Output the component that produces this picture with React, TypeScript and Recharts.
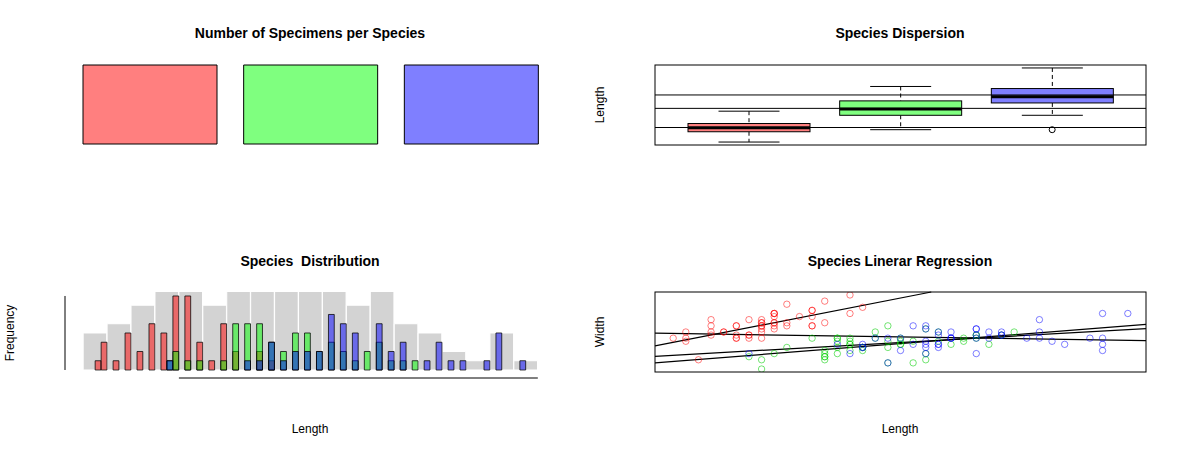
import React from "react";
import {
  BarChart, Bar, Cell, XAxis, YAxis, ComposedChart, Scatter, ScatterChart, ReferenceLine,
} from "recharts";

const FONT = "'Liberation Sans', Arial, Helvetica, sans-serif";
const W = 1180;
const H = 454;

// ---- data ----
const species = ["setosa", "versicolor", "virginica"];
const speciesCounts = [50, 50, 50];
const barFills = ["#FF7F7F", "#7FFF7F", "#7F7FFF"];

// boxplot stats of Sepal.Length
const boxMin = [4.3, 4.9, 5.6];
const boxQ1 = [4.8, 5.6, 6.2];
const boxMed = [5.0, 5.9, 6.5];
const boxQ3 = [5.2, 6.3, 6.9];
const boxMax = [5.8, 7.0, 7.9];
const boxOutlier = [null, null, 4.9];
const speciesMeans = [5.006, 5.936, 6.588];

// histograms
const grayCenters = [4.3, 4.5, 4.7, 4.9, 5.1, 5.3, 5.5, 5.7, 5.9, 6.1, 6.3, 6.5, 6.7, 6.9, 7.1, 7.3, 7.5, 7.7, 7.9];
const grayCounts = [4, 5, 7, 16, 13, 7, 13, 15, 9, 10, 16, 7, 11, 5, 4, 2, 1, 4, 1];
const setosaHistVals = [4.3, 4.4, 4.5, 4.6, 4.7, 4.8, 4.9, 5.0, 5.1, 5.2, 5.3, 5.4, 5.5, 5.7, 5.8];
const setosaHistCounts = [1, 3, 1, 4, 2, 5, 4, 8, 8, 3, 1, 5, 2, 2, 1];
const versHistVals = [4.9, 5.0, 5.1, 5.2, 5.4, 5.5, 5.6, 5.7, 5.8, 5.9, 6.0, 6.1, 6.2, 6.3, 6.4, 6.5, 6.6, 6.7, 6.8, 6.9, 7.0];
const versHistCounts = [1, 2, 1, 1, 1, 5, 5, 5, 3, 2, 4, 4, 2, 3, 2, 1, 2, 3, 1, 1, 1];
const virgHistVals = [4.9, 5.6, 5.7, 5.8, 5.9, 6.0, 6.1, 6.2, 6.3, 6.4, 6.5, 6.7, 6.8, 6.9, 7.1, 7.2, 7.3, 7.4, 7.6, 7.7, 7.9];
const virgHistCounts = [1, 1, 1, 3, 1, 2, 2, 2, 6, 5, 4, 5, 2, 3, 1, 3, 1, 1, 1, 4, 1];

// scatter
const setosaLen = [5.1,4.9,4.7,4.6,5.0,5.4,4.6,5.0,4.4,4.9,5.4,4.8,4.8,4.3,5.8,5.7,5.4,5.1,5.7,5.1,5.4,5.1,4.6,5.1,4.8,5.0,5.0,5.2,5.2,4.7,4.8,5.4,5.2,5.5,4.9,5.0,5.5,4.9,4.4,5.1,5.0,4.5,4.4,5.0,5.1,4.8,5.1,4.6,5.3,5.0];
const setosaWid = [3.5,3.0,3.2,3.1,3.6,3.9,3.4,3.4,2.9,3.1,3.7,3.4,3.0,3.0,4.0,4.4,3.9,3.5,3.8,3.8,3.4,3.7,3.6,3.3,3.4,3.0,3.4,3.5,3.4,3.2,3.1,3.4,4.1,4.2,3.1,3.2,3.5,3.6,3.0,3.4,3.5,2.3,3.2,3.5,3.8,3.0,3.8,3.2,3.7,3.3];
const versLen = [7.0,6.4,6.9,5.5,6.5,5.7,6.3,4.9,6.6,5.2,5.0,5.9,6.0,6.1,5.6,6.7,5.6,5.8,6.2,5.6,5.9,6.1,6.3,6.1,6.4,6.6,6.8,6.7,6.0,5.7,5.5,5.5,5.8,6.0,5.4,6.0,6.7,6.3,5.6,5.5,5.5,6.1,5.8,5.0,5.6,5.7,5.7,6.2,5.1,5.7];
const versWid = [3.2,3.2,3.1,2.3,2.8,2.8,3.3,2.4,2.9,2.7,2.0,3.0,2.2,2.9,2.9,3.1,3.0,2.7,2.2,2.5,3.2,2.8,2.5,2.8,2.9,3.0,2.8,3.0,2.9,2.6,2.4,2.4,2.7,2.7,3.0,3.4,3.1,2.3,3.0,2.5,2.6,3.0,2.6,2.3,2.7,3.0,2.9,2.9,2.5,2.8];
const virgLen = [6.3,5.8,7.1,6.3,6.5,7.6,4.9,7.3,6.7,7.2,6.5,6.4,6.8,5.7,5.8,6.4,6.5,7.7,7.7,6.0,6.9,5.6,7.7,6.3,6.7,7.2,6.2,6.1,6.4,7.2,7.4,7.9,6.4,6.3,6.1,7.7,6.3,6.4,6.0,6.9,6.7,6.9,5.8,6.8,6.7,6.7,6.3,6.5,6.2,5.9];
const virgWid = [3.3,2.7,3.0,2.9,3.0,3.0,2.5,2.9,2.5,3.6,3.2,2.7,3.0,2.5,2.8,3.2,3.0,3.8,2.6,2.2,3.2,2.8,2.8,2.7,3.3,3.2,2.8,3.0,2.8,3.0,2.8,3.8,2.8,2.8,2.6,3.0,3.4,3.1,3.0,3.1,3.1,3.1,2.7,3.2,3.3,3.0,2.5,3.0,3.4,3.0];
// regression coefficients: overall, setosa, versicolor, virginica
const regIntercepts = [3.4189, -0.5694, 0.8724, 1.4463];
const regSlopes = [-0.0619, 0.7985, 0.3197, 0.2319];

// ---- derived tables ----
const tlData = species.map((s, i) => ({ name: s, count: speciesCounts[i] }));
const boxData = species.map((s, i) => ({
  name: s, range: [boxQ1[i], boxQ3[i]], min: boxMin[i], q1: boxQ1[i], med: boxMed[i],
  q3: boxQ3[i], max: boxMax[i], out: boxOutlier[i], fill: barFills[i],
}));
const grayData = grayCenters.map((x, i) => ({ x, c: grayCounts[i] }));
const histBins = (vals: number[], counts: number[]) =>
  vals.map((v, i) => ({ x: i === 0 ? v + 0.025 : v - 0.025, c: counts[i] }));
const histSeries = [
  { data: histBins(setosaHistVals, setosaHistCounts), fill: "rgba(255,0,0,0.5)" },
  { data: histBins(versHistVals, versHistCounts), fill: "rgba(0,255,0,0.5)" },
  { data: histBins(virgHistVals, virgHistCounts), fill: "rgba(0,0,255,0.5)" },
];
const pts = (a: number[], b: number[]) => a.map((x, i) => ({ x, y: b[i] }));
const scatterSeries = [
  { data: pts(setosaLen, setosaWid), stroke: "rgba(255,0,0,0.5)" },
  { data: pts(versLen, versWid), stroke: "rgba(0,205,0,0.55)" },
  { data: pts(virgLen, virgWid), stroke: "rgba(0,0,255,0.5)" },
];
const SX: [number, number] = [4.156, 8.044];
const SY: [number, number] = [1.904, 4.496];
const regSegments = regIntercepts.map((a, i) => {
  const b = regSlopes[i];
  const clipX = (x: number) => {
    let y = a + b * x;
    if (y > SY[1]) { x = (SY[1] - a) / b; y = SY[1]; }
    if (y < SY[0]) { x = (SY[0] - a) / b; y = SY[0]; }
    return { x, y };
  };
  return [clipX(SX[0]), clipX(SX[1])];
});

// ---- ticks ----
const xTick = (k: number, fmt: (v: any) => string) => (p: any) => (
  <text x={p.x} y={p.y + k} textAnchor="middle" dominantBaseline="central" fontSize={12} fontFamily={FONT} fill="#000">
    {fmt(p.payload.value)}
  </text>
);
const yTick = (show: (v: number) => boolean, fmt: (v: number) => string) => (p: any) =>
  show(p.payload.value) ? (
    <text transform={`translate(${p.x - 15},${p.y}) rotate(-90)`} textAnchor="middle" dominantBaseline="central" fontSize={12} fontFamily={FONT} fill="#000">
      {fmt(p.payload.value)}
    </text>
  ) : <g />;

const abs: React.CSSProperties = { position: "absolute", left: 0, top: 0 };
const m = (l: number, t: number, r: number, b: number) => ({ left: l, top: t, right: W - r, bottom: H - b });

const BoxShape = (p: any) => {
  const { x, y, width, height, payload } = p;
  const top = Math.min(y, y + height);
  const h = Math.abs(height);
  const ppu = h / (payload.q3 - payload.q1);
  const cx = x + width / 2;
  const yOf = (v: number) => top + (payload.q3 - v) * ppu;
  const cap = width / 4;
  return (
    <g>
      <line x1={cx} x2={cx} y1={yOf(payload.max)} y2={top} stroke="#000" strokeDasharray="4 3" />
      <line x1={cx} x2={cx} y1={top + h} y2={yOf(payload.min)} stroke="#000" strokeDasharray="4 3" />
      <line x1={cx - cap} x2={cx + cap} y1={yOf(payload.max)} y2={yOf(payload.max)} stroke="#000" />
      <line x1={cx - cap} x2={cx + cap} y1={yOf(payload.min)} y2={yOf(payload.min)} stroke="#000" />
      <rect x={x} y={top} width={width} height={h} fill={payload.fill} stroke="#000" />
      <line x1={x} x2={x + width} y1={yOf(payload.med)} y2={yOf(payload.med)} stroke="#000" strokeWidth={3} />
    </g>
  );
};

export default function App() {
  return (
    <div style={{ position: "absolute", left: 0, top: 0, width: W, height: H, background: "#fff", fontFamily: FONT }}>
      {/* Top-left: counts */}
      <div style={abs}>
        <BarChart width={W} height={H} data={tlData} margin={m(65, 65, 556, 144)}>
          <XAxis dataKey="name" type="category" padding={{ left: 5, right: 4 }} height={0} axisLine={false} tickLine={false} tickSize={0} tick={xTick(23, (v) => v)} interval={0} />
          <YAxis type="number" domain={[0, 50]} ticks={[0, 10, 20, 30, 40, 50]} width={0} tickSize={7} stroke="#000" tick={yTick((v) => v % 20 === 0, (v) => String(v))} />
          <Bar dataKey="count" barSize={134} stroke="#000" isAnimationActive={false}>
            {tlData.map((d, i) => <Cell key={d.name} fill={barFills[i]} />)}
          </Bar>
        </BarChart>
      </div>

      {/* Top-right: boxplot */}
      <div style={abs}>
        <ComposedChart width={W} height={H} data={boxData} margin={m(655, 65, 1146, 145)}>
          <XAxis dataKey="name" type="category" padding={{ left: 18, right: 18 }} height={0} axisLine={false} tickSize={7} stroke="#000" tick={xTick(16, (v) => v)} interval={0} />
          <YAxis type="number" domain={[4.156, 8.044]} ticks={[4.5, 5, 5.5, 6, 6.5, 7, 7.5]} width={0} axisLine={false} tickSize={7} stroke="#000" tick={yTick((v) => [4.5, 6, 7.5].includes(v), (v) => v.toFixed(1))} allowDataOverflow />
          <Bar dataKey="range" barSize={122} shape={<BoxShape />} isAnimationActive={false} />
          <Scatter dataKey="out" isAnimationActive={false} shape={(p: any) => (p.cx != null && p.payload.out != null ? <circle cx={p.cx} cy={p.cy} r={3} fill="none" stroke="#000" /> : <g />)} />
          {speciesMeans.map((v, i) => <ReferenceLine key={i} y={v} stroke="#000" strokeWidth={1} />)}
        </ComposedChart>
      </div>

      {/* Bottom-left: histograms */}
      <div style={abs}>
        <ComposedChart width={W} height={H} data={grayData} margin={m(65, 292, 556, 378)}>
          <XAxis dataKey="x" type="number" domain={[4.048, 8.152]} ticks={[5, 6, 7, 8]} height={0} axisLine={false} tickSize={7} stroke="#000" tick={xTick(9, (v) => String(v))} allowDataOverflow />
          <YAxis type="number" domain={[-0.865, 8.43]} ticks={[0, 2, 4, 6, 8]} width={0} axisLine={false} tickSize={7} stroke="#000" tick={yTick(() => true, (v) => String(v))} allowDataOverflow />
          <Bar dataKey="c" barSize={23.6} fill="#D3D3D3" stroke="#fff" strokeWidth={1} isAnimationActive={false} />
          <ReferenceLine segment={[{ x: 5, y: -0.865 }, { x: 8, y: -0.865 }]} stroke="#000" ifOverflow="visible" />
          <ReferenceLine segment={[{ x: 4.048, y: 0 }, { x: 4.048, y: 8 }]} stroke="#000" ifOverflow="visible" />
        </ComposedChart>
      </div>
      {histSeries.map((s, i) => (
        <div style={abs} key={i}>
          <ComposedChart width={W} height={H} data={s.data} margin={m(65, 292, 556, 378)}>
            <XAxis dataKey="x" type="number" domain={[4.048, 8.152]} hide allowDataOverflow />
            <YAxis type="number" domain={[-0.865, 8.43]} hide allowDataOverflow />
            <Bar dataKey="c" barSize={5.8} fill={s.fill} stroke="rgba(0,0,0,0.75)" strokeWidth={1} isAnimationActive={false} />
          </ComposedChart>
        </div>
      ))}

      {/* Bottom-right: scatter */}
      <div style={abs}>
        <ScatterChart width={W} height={H} margin={m(655, 292, 1146, 372)}>
          <XAxis dataKey="x" type="number" domain={SX} ticks={[4.5, 5, 5.5, 6, 6.5, 7, 7.5, 8]} height={0} axisLine={false} tickSize={7} stroke="#000" tick={xTick(16, (v) => v.toFixed(1))} allowDataOverflow />
          <YAxis dataKey="y" type="number" domain={SY} ticks={[2, 2.5, 3, 3.5, 4]} width={0} axisLine={false} tickSize={7} stroke="#000" tick={yTick((v) => Number.isInteger(v), (v) => v.toFixed(1))} allowDataOverflow />
          {scatterSeries.map((s, i) => (
            <Scatter key={i} data={s.data} isAnimationActive={false}
              shape={(p: any) => <circle cx={p.cx} cy={p.cy} r={3.2} fill="none" stroke={s.stroke} strokeWidth={1} />} />
          ))}
          {regSegments.map((seg, i) => (
            <ReferenceLine key={i} segment={seg} stroke="#000" strokeWidth={1.2} ifOverflow="visible" />
          ))}
        </ScatterChart>
      </div>

      {/* titles, labels, frames */}
      <svg width={W} height={H} style={{ ...abs, pointerEvents: "none" }}>
        <rect x={655} y={65} width={491} height={80} fill="none" stroke="#000" />
        <rect x={655} y={292} width={491} height={80} fill="none" stroke="#000" />
        <g fontFamily={FONT} fill="#000">
          <text x={310} y={33} textAnchor="middle" dominantBaseline="central" fontSize={14} fontWeight="bold">Number of Specimens per Species</text>
          <text x={900} y={33} textAnchor="middle" dominantBaseline="central" fontSize={14} fontWeight="bold">Species Dispersion</text>
          <text x={310} y={261} textAnchor="middle" dominantBaseline="central" fontSize={14} fontWeight="bold" style={{ whiteSpace: "pre" }}>{"Species  Distribution"}</text>
          <text x={900} y={261} textAnchor="middle" dominantBaseline="central" fontSize={14} fontWeight="bold">Species Linerar Regression</text>
          <text transform="translate(600,105) rotate(-90)" textAnchor="middle" dominantBaseline="central" fontSize={12}>Length</text>
          <text transform="translate(10,333) rotate(-90)" textAnchor="middle" dominantBaseline="central" fontSize={12}>Frequency</text>
          <text transform="translate(600,332) rotate(-90)" textAnchor="middle" dominantBaseline="central" fontSize={12}>Width</text>
          <text x={310} y={429} textAnchor="middle" dominantBaseline="central" fontSize={12}>Length</text>
          <text x={900} y={429} textAnchor="middle" dominantBaseline="central" fontSize={12}>Length</text>
        </g>
      </svg>
    </div>
  );
}
